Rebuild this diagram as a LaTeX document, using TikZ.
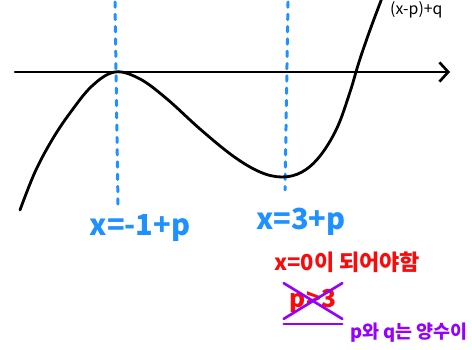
\documentclass[tikz,border=0pt]{standalone}
\usepackage{fontspec}
\setmainfont{Noto Sans CJK KR}
\usetikzlibrary{arrows.meta}
\definecolor{guideblue}{RGB}{30,144,255}
\definecolor{notered}{RGB}{250,10,10}
\definecolor{notepurple}{RGB}{150,0,255}

\begin{document}
\begin{tikzpicture}[x=0.02cm, y=-0.02cm,
    guide/.style={guideblue, line width=1.7pt, line cap=round, dash pattern=on 3pt off 4pt},
    pen/.style={line width=1.5pt, line cap=round}]
            \path[use as bounding box] (0,0) rectangle (472,350);
            \draw[pen, -{Straight Barb[length=5pt, width=11pt]}] (15,72) -- (450,72);
            \draw[guide] (115,2) -- (118,205);
            \draw[guide] (288,2) -- (285,190);
            \draw[pen, line width=1.6pt] plot[smooth, tension=0.6] coordinates {(20,210) (35,172) (52,140) (70,113) (92,86) (115,72) (140,79) (167,99) (200,129) (233,156) (260,172) (282,177) (302,172) (320,156) (337,128) (350,92) (359,62) (370,30) (382,-2)};
            \node[font=\fontsize{9}{10}\selectfont, anchor=west] (fn) at (384,10) {(x-p)+q};
            \node[guideblue, font=\bfseries\fontsize{16.5}{18}\selectfont] (a) at (140,228) {x=-1+p};
            \node[guideblue, font=\bfseries\fontsize{16.5}{18}\selectfont] (b) at (301,222) {x=3+p};
            \node[notered, font=\bfseries\fontsize{12.5}{13}\selectfont, anchor=west] (c) at (268,262) {x=0이 되어야함};
            \node[notered, font=\bfseries\fontsize{14}{15}\selectfont] (d) at (313,301) {p>3};
            \draw[notepurple, pen] (d.north west) -- (d.south east);
            \draw[notepurple, pen] (d.south west) -- (d.north east);
            \draw[notepurple, pen] ([yshift=-3pt]d.south west) -- ([yshift=-3pt]d.south east);
            \node[notepurple, font=\bfseries\fontsize{10.5}{12}\selectfont, anchor=west] (e) at (344,333) {p와 q는 양수이};
        \end{tikzpicture}
\end{document}
